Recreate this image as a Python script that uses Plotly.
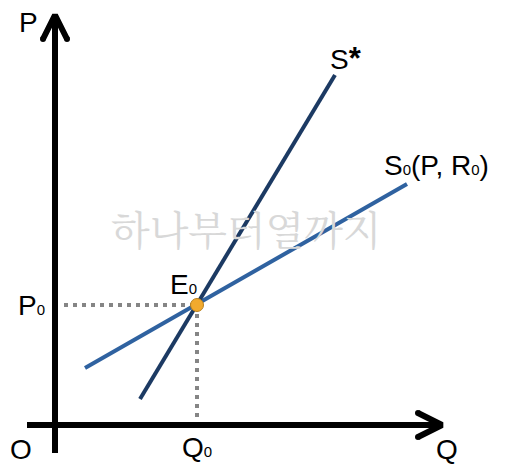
import plotly.graph_objects as go

# Chart values (origin at axis intersection, P up, Q right)
s0_q = [30, 352]
s0_p = [57, 241]
sstar_q = [85, 280]
sstar_p = [26, 350]
eq_q = [142]
eq_p = [120]
q_axis = [-28, 387]
p_axis = [-28, 410]

LAB_FONT = "Liberation Sans, Arial, sans-serif"
SUB = '<span style="font-size:15px">0</span>'

fig = go.Figure()

# axes
fig.add_trace(go.Scatter(x=[0, 0], y=p_axis, mode="lines",
                         line=dict(color="black", width=6), hoverinfo="skip"))
fig.add_trace(go.Scatter(x=q_axis, y=[0, 0], mode="lines",
                         line=dict(color="black", width=6), hoverinfo="skip"))
# arrowheads (chevrons)
tp = p_axis[1]
tq = q_axis[1]
fig.add_trace(go.Scatter(x=[-12, 0, 12], y=[tp - 24, tp, tp - 24], mode="lines",
                         line=dict(color="black", width=6), hoverinfo="skip"))
fig.add_trace(go.Scatter(x=[tq - 24, tq, tq - 24], y=[12, 0, -12], mode="lines",
                         line=dict(color="black", width=6), hoverinfo="skip"))
fig.add_trace(go.Scatter(x=[-12, 12, tq - 24, tq - 24], y=[tp - 24, tp - 24, 12, -12],
                         mode="markers", marker=dict(color="black", size=6),
                         hoverinfo="skip"))

# dotted guide lines
fig.add_trace(go.Scatter(x=[9, eq_q[0]], y=[eq_p[0], eq_p[0]], mode="lines",
                         line=dict(color="#858585", width=4, dash="4px,5px"),
                         hoverinfo="skip"))
fig.add_trace(go.Scatter(x=[eq_q[0], eq_q[0]], y=[eq_p[0], 4], mode="lines",
                         line=dict(color="#858585", width=4, dash="4px,5px"),
                         hoverinfo="skip"))

# supply curves
fig.add_trace(go.Scatter(x=s0_q, y=s0_p, mode="lines",
                         line=dict(color="#2F62A0", width=4), hoverinfo="skip"))
fig.add_trace(go.Scatter(x=sstar_q, y=sstar_p, mode="lines",
                         line=dict(color="#1C3A63", width=4), hoverinfo="skip"))

# equilibrium point
fig.add_trace(go.Scatter(x=eq_q, y=eq_p, mode="markers",
                         marker=dict(color="#F2AA2E", size=13,
                                     line=dict(color="#B9801E", width=1)),
                         hoverinfo="skip"))

def lab(x, y, text, size=28, color="black", font=LAB_FONT):
    fig.add_annotation(x=x, y=y, text=text, showarrow=False,
                       font=dict(family=font, size=size, color=color),
                       xanchor="center", yanchor="middle")

# watermark
lab(191, 198, "하나부터열까지", size=40, color="#D8D8D8",
    font="Noto Serif CJK KR, Noto Sans CJK KR, sans-serif")

lab(-27, 403, "P")
lab(392, -24, "Q")
lab(-34, -24, "O")
lab(-24, 120, "P" + SUB)
lab(128, 141, "E" + SUB)
lab(142, -22, "Q" + SUB)
lab(291, 367, 'S<b><span style="font-size:31px">*</span></b>')
lab(381, 260, "S" + SUB + "(P, R" + SUB + ")")

fig.update_layout(
    width=508, height=472,
    margin=dict(l=0, r=0, t=0, b=0),
    paper_bgcolor="white", plot_bgcolor="white",
    showlegend=False,
    xaxis=dict(range=[-55, 453], visible=False, fixedrange=True),
    yaxis=dict(range=[-47, 425], visible=False, fixedrange=True),
)

fig.write_html("out.html", config={"displayModeBar": False},
               post_script="document.body.style.margin='0px';")
